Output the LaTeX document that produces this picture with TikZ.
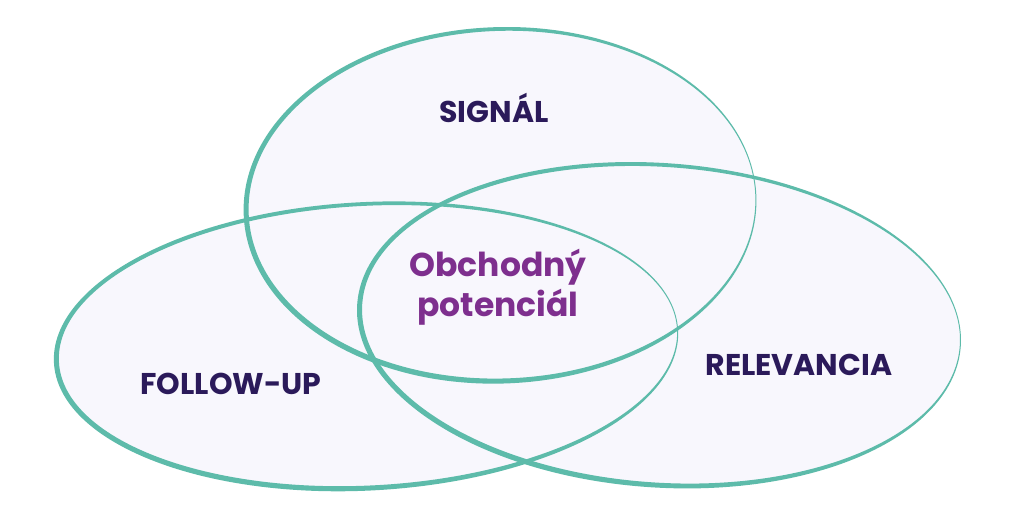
\documentclass[tikz,border=0pt]{standalone}
\usepackage{fontspec}
\setmainfont{Poppins}
\definecolor{vfillc}{HTML}{F8F7FD}
\definecolor{vlinec}{HTML}{5DBBAA}
\definecolor{labc}{HTML}{2B1A5A}
\definecolor{cenc}{HTML}{7E2F8E}
\tikzset{
  vfill/.style={fill=vfillc},
  vline/.style={fill=vlinec, even odd rule},
  lab/.style={text=labc, font=\fontsize{30}{34}\selectfont\bfseries, inner sep=0pt},
  cen/.style={text=cenc, font=\fontsize{33}{40}\selectfont\bfseries, align=center, inner sep=0pt},
}
\newcommand\vennfill[5]{\fill[vfill, rotate around={#5:(#1,#2)}] (#1,#2) ellipse [x radius=#3, y radius=#4];}
\newcommand\vennline[5]{\fill[vline, rotate around={#5:(#1,#2)}] (#1-1,#2-0.3) ellipse [x radius=#3+1.5, y radius=#4+2.2] (#1+1,#2+0.3) ellipse [x radius=#3-1.5, y radius=#4-2.2];}
\begin{document}
\begin{tikzpicture}[x=1pt,y=1pt]
\useasboundingbox (0,0) rectangle (1016,518);
\vennfill{501}{313}{255}{176}{2}
\vennfill{367}{172}{311}{142}{3}
\vennfill{660}{193}{301}{160}{-4}
\vennline{501}{313}{255}{176}{2}
\vennline{367}{172}{311}{142}{3}
\vennline{660}{193}{301}{160}{-4}
\node[lab] (signal) at (494,410) {SIGNÁL};
\node[lab] (follow) at (231,134) {FOLLOW-UP};
\node[lab] (relev) at (799,153) {RELEVANCIA};
\node[cen] (center) at (498,231) {Obchodný\\potenciál};
\end{tikzpicture}
\end{document}
